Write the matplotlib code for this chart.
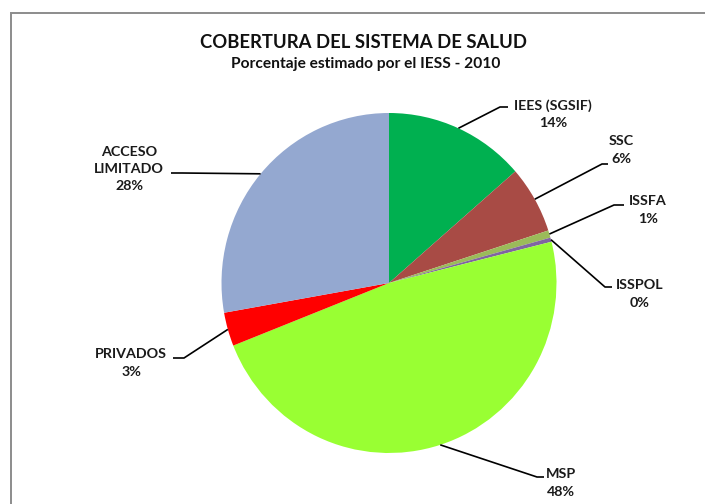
import numpy as np
import matplotlib
matplotlib.use("Agg")
import matplotlib.pyplot as plt
from matplotlib.lines import Line2D

# ---- data ----
categories = ["IEES (SGSIF)", "SSC", "ISSFA", "ISSPOL", "MSP", "PRIVADOS", "ACCESO\nLIMITADO"]
values = [13.6, 6.4, 0.7, 0.4, 47.9, 3.2, 27.8]
colors = ["#00B050", "#A84B45", "#9BBB59", "#8064A2", "#99FF33", "#FF0000", "#94A8D0"]
title = "COBERTURA DEL SISTEMA DE SALUD"
subtitle = "Porcentaje estimado por el IESS - 2010"

# ---- layout (pixel coordinates of the 705x504 canvas) ----
W, H = 705, 504
CX, CY = 389, 283        # pie centre in px
RX, RY = 167.5, 170.0    # pie radii in px
label_pos = [(553, 114), (621, 150), (648, 210), (640, 294), (561, 483), (131, 363), (129, 169)]
elbows = [((500, 107), (508, 107)),
          ((602, 164), (608, 164)),
          ((614, 205), (624, 205)),
          ((605, 287), (612, 287)),
          ((537, 477), (544, 477)),
          ((184, 358), (173, 358)),
          ((182, 173), (171, 173))]

FONT = ["Lato", "DejaVu Sans"]
plt.rcParams["font.family"] = FONT

fig = plt.figure(figsize=(W / 100, H / 100), dpi=100)
ax = fig.add_axes([0, 0, 1, 1])
ax.set_frame_on(False)


def px(x, y):
    return (x - CX) / RX, (CY - y) / RY


# frame (top and left edges; right/bottom lie outside the canvas)
fx = [10.5 / W, 10.5 / W, 1.2]
fy = [-0.2, 1 - 12.5 / H, 1 - 12.5 / H]
fig.add_artist(Line2D(fx, fy, transform=fig.transFigure, color="#8C8C8C", lw=1.4,
                      solid_joinstyle="miter"))

wedges, _ = ax.pie(values, colors=colors, startangle=90, counterclock=False,
                   radius=1.0, center=(0, 0), frame=False,
                   wedgeprops=dict(linewidth=0))
ax.set_xlim(-CX / RX, (W - CX) / RX)
ax.set_ylim(-(H - CY) / RY, CY / RY)
ax.set_aspect("auto")
ax.axis("off")

total = sum(values)
for w, cat, v, (lx, ly), (e1, e2) in zip(wedges, categories, values, label_pos, elbows):
    mid = np.deg2rad((w.theta1 + w.theta2) / 2)
    sx, sy = np.cos(mid), np.sin(mid)
    p1 = px(*e1)
    p2 = px(*e2)
    ax.plot([sx, p1[0], p2[0]], [sy, p1[1], p2[1]], color="black", lw=1.2,
            solid_capstyle="butt", zorder=3)
    pct = f"{round(v / total * 100):.0f}%"
    tx, ty = px(lx, ly)
    ax.text(tx, ty, f"{cat}\n{pct}", ha="center", va="center", fontsize=10.3,
            fontweight="bold", color="#1a1a1a", linespacing=1.55, zorder=4)

tx, ty = px(364, 42)
ax.text(tx, ty, title, ha="center", va="center", fontsize=13.3, fontweight="bold", color="#111111")
tx, ty = px(366, 64)
ax.text(tx, ty, subtitle, ha="center", va="center", fontsize=11.2, fontweight="bold", color="#111111")

fig.savefig("out.png", dpi=100)
